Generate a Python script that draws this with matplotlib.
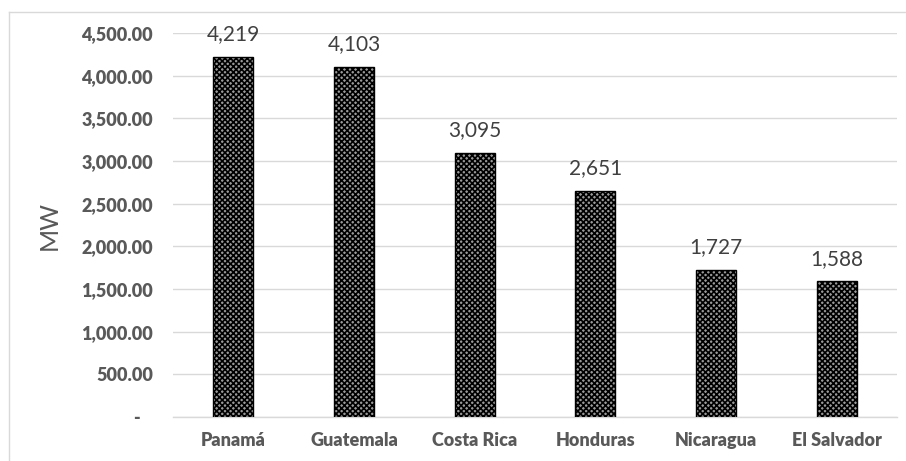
import matplotlib
matplotlib.use("Agg")
import matplotlib.pyplot as plt
from matplotlib.lines import Line2D

countries = ["Panamá", "Guatemala", "Costa Rica", "Honduras", "Nicaragua", "El Salvador"]
capacity_mw = [4219, 4103, 3095, 2651, 1727, 1588]
yticks = [0, 500, 1000, 1500, 2000, 2500, 3000, 3500, 4000, 4500]

plt.rcParams['font.family'] = ['Lato', 'DejaVu Sans']
plt.rcParams['hatch.color'] = 'black'
plt.rcParams['hatch.linewidth'] = 1.2

W, H = 906, 461
fig = plt.figure(figsize=(W / 100, H / 100), dpi=100)
ax = fig.add_axes([173 / W, (H - 417) / H, (897 - 173) / W, (417 - 33) / H])

x = list(range(len(countries)))
bars = ax.bar(x, capacity_mw, width=0.33, color='#9a9a9a', edgecolor='black',
              linewidth=1.0, hatch='xxxxxx', zorder=3)

for xi, v in zip(x, capacity_mw):
    ax.annotate(f"{v:,}", (xi, v), xytext=(0, 9), textcoords='offset points',
                ha='center', va='bottom', fontsize=15, color='#404040')

ax.set_xlim(-0.5, len(countries) - 0.5)
ax.set_ylim(0, 4500)
ax.set_yticks(yticks)
ax.set_yticklabels(["-   " if t == 0 else f"{t:,.2f}" for t in yticks])
ax.set_xticks(x)
ax.set_xticklabels(countries)
ax.tick_params(axis='y', length=0, pad=14.5, labelsize=13, labelcolor='#595959')
ax.tick_params(axis='x', length=0, pad=11, labelsize=13, labelcolor='#595959')
for lab in ax.get_yticklabels() + ax.get_xticklabels():
    lab.set_fontweight('heavy')

ax.grid(axis='y', color='#d9d9d9', linewidth=1.0, zorder=0)
ax.grid(axis='x', visible=False)
for s in ['top', 'right', 'left']:
    ax.spines[s].set_visible(False)
ax.spines['bottom'].set_color('#d9d9d9')
ax.spines['bottom'].set_linewidth(1.0)

fig.text(49 / W, (H - 225) / H, "MW", rotation=90, ha='center', va='center',
         fontsize=18, color='#595959')

# chart border (partially visible in the reference)
fig.add_artist(Line2D([8.5 / W, 8.5 / W], [0, (H - 12.5) / H], color='#d9d9d9', lw=1.0,
                      transform=fig.transFigure))
fig.add_artist(Line2D([8.5 / W, 1.0], [(H - 12.5) / H, (H - 12.5) / H], color='#d9d9d9', lw=1.0,
                      transform=fig.transFigure))

fig.savefig("out.png", dpi=100)
